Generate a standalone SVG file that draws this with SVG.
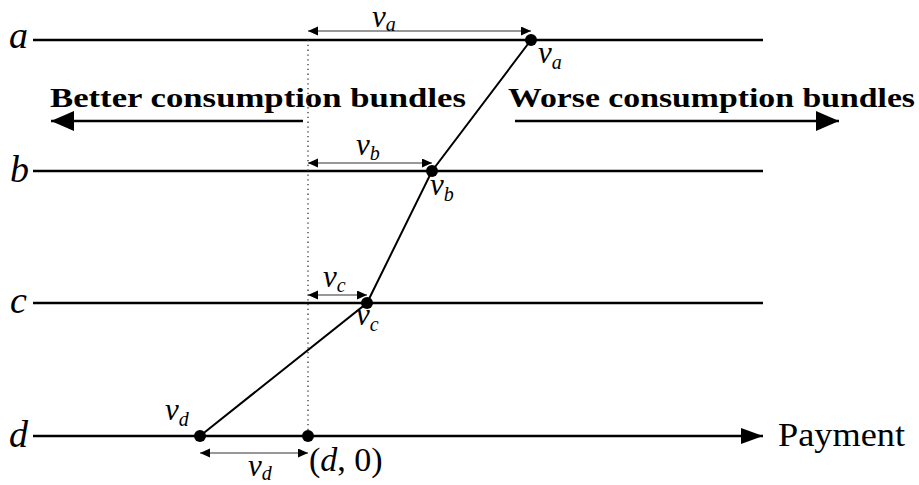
<svg xmlns="http://www.w3.org/2000/svg" width="919" height="485" viewBox="0 0 919 485">
<style>
.ln{stroke:#000;stroke-width:2.5;fill:none}
.seg{stroke:#000;stroke-width:2;fill:none}
.dim{stroke:#333;stroke-width:1.2;fill:none}
.dot{fill:#000}
.lab{font-family:"Liberation Serif",serif;font-style:italic;font-size:38px;fill:#000}
.v{font-family:"Liberation Serif",serif;font-style:italic;font-size:31px;fill:#000}
.sub{font-size:20px}
.rm{font-family:"Liberation Serif",serif;font-size:34px;fill:#000}
.bd{font-family:"Liberation Serif",serif;font-weight:bold;font-size:28px;fill:#000}
</style>
<defs>
<marker id="big" markerUnits="userSpaceOnUse" markerWidth="26" markerHeight="22" refX="23" refY="10" orient="auto">
<path d="M0,0 L23,10 L0,20 Z" fill="#000"/>
</marker>
<marker id="pay" markerUnits="userSpaceOnUse" markerWidth="24" markerHeight="18" refX="22" refY="8" orient="auto">
<path d="M0,0 L22,8 L0,16 Z" fill="#000"/>
</marker>
<marker id="sm" markerUnits="userSpaceOnUse" markerWidth="12" markerHeight="10" refX="10" refY="4.5" orient="auto-start-reverse">
<path d="M0,0 L10,4.5 L0,9 Z" fill="#000"/>
</marker>
</defs>

<g id="line-a">
<text class="lab" x="9" y="48">a</text>
<line class="ln" x1="33" y1="40" x2="763" y2="40"/>
</g>
<g id="line-b">
<text class="lab" x="10" y="182">b</text>
<line class="ln" x1="33" y1="171" x2="763" y2="171"/>
</g>
<g id="line-c">
<text class="lab" x="10" y="313">c</text>
<line class="ln" x1="33" y1="303" x2="763" y2="303"/>
</g>
<g id="line-d">
<text class="lab" x="9" y="447">d</text>
<line class="ln" x1="33" y1="436" x2="763" y2="436" marker-end="url(#pay)"/>
<text class="rm" x="778" y="446" textLength="127" lengthAdjust="spacingAndGlyphs">Payment</text>
</g>

<g id="better">
<text class="bd" x="50" y="107" textLength="416" lengthAdjust="spacingAndGlyphs">Better consumption bundles</text>
<line class="ln" x1="303" y1="121" x2="51" y2="121" marker-end="url(#big)"/>
</g>
<g id="worse">
<text class="bd" x="508" y="107" textLength="407" lengthAdjust="spacingAndGlyphs">Worse consumption bundles</text>
<line class="ln" x1="515" y1="121" x2="839" y2="121" marker-end="url(#big)"/>
</g>

<g id="connectors">
<line x1="308" y1="40" x2="308" y2="436" stroke="#333" stroke-width="1.3" stroke-dasharray="1.3,3.5"/>
<polyline class="seg" points="531,40 432,171 367,303 200,436"/>
<line class="dim" x1="308" y1="31" x2="531" y2="31" marker-start="url(#sm)" marker-end="url(#sm)"/>
<line class="dim" x1="308" y1="163" x2="432" y2="163" marker-start="url(#sm)" marker-end="url(#sm)"/>
<line class="dim" x1="308" y1="295" x2="367" y2="295" marker-start="url(#sm)" marker-end="url(#sm)"/>
<line class="dim" x1="200" y1="453" x2="308" y2="453" marker-start="url(#sm)" marker-end="url(#sm)"/>
</g>

<g id="point-a">
<circle class="dot" cx="531" cy="40" r="6"/>
<text class="v" x="538" y="63">v<tspan class="sub" dy="6">a</tspan></text>
<text class="v" x="372" y="26.5" font-size="29">v<tspan class="sub" dy="4">a</tspan></text>
</g>
<g id="point-b">
<circle class="dot" cx="432" cy="171" r="6"/>
<text class="v" x="430" y="195">v<tspan class="sub" dy="6">b</tspan></text>
<text class="v" x="356" y="155">v<tspan class="sub" dy="5">b</tspan></text>
</g>
<g id="point-c">
<circle class="dot" cx="367" cy="303" r="6"/>
<text class="v" x="356" y="325">v<tspan class="sub" dy="6">c</tspan></text>
<text class="v" x="323" y="287">v<tspan class="sub" dy="5">c</tspan></text>
</g>
<g id="point-d">
<circle class="dot" cx="200" cy="436" r="6"/>
<text class="v" x="165" y="420">v<tspan class="sub" dy="6">d</tspan></text>
<text class="v" x="248" y="476">v<tspan class="sub" dy="4">d</tspan></text>
</g>
<g id="point-d0">
<circle class="dot" cx="308" cy="436" r="6"/>
<text class="rm" x="309" y="471">(<tspan font-style="italic">d</tspan>, 0)</text>
</g>
</svg>
